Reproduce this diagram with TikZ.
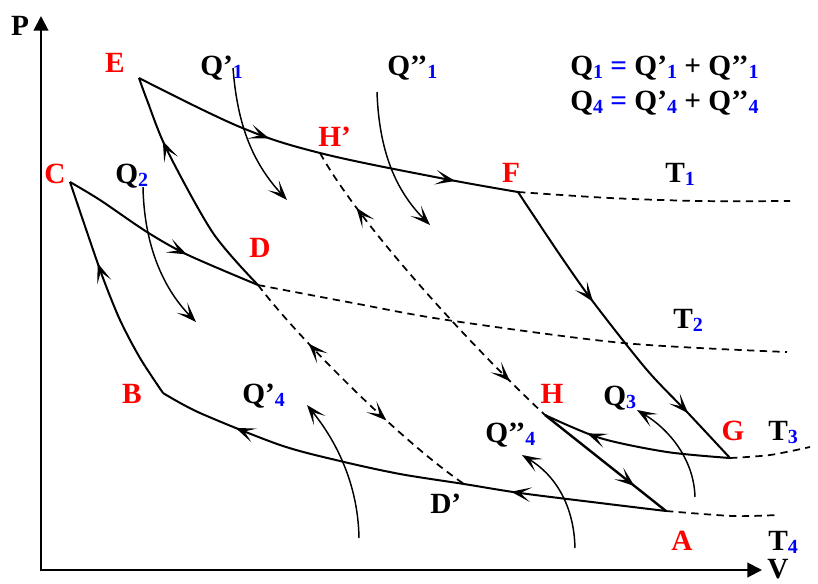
\documentclass[tikz,border=0pt]{standalone}
\usepackage{fontspec}
\setmainfont{Liberation Serif}
\usetikzlibrary{arrows.meta,decorations.markings}
\definecolor{lblred}{RGB}{255,0,0}
\definecolor{subblue}{RGB}{0,0,255}
\newcommand{\subd}[1]{\textcolor{subblue}{\raisebox{-2.5pt}{\fontsize{15}{16}\selectfont #1}}}
\begin{document}
\begin{tikzpicture}[x=0.75pt,y=-0.75pt,
  mytip/.tip={Stealth[length=15pt,width=11pt,inset=8pt]},
  axisline/.style={line width=1.5pt, {Triangle[length=11pt,width=11pt]}-{Triangle[length=11pt,width=11pt]}},
  curve/.style={line width=1.5pt},
  heat/.style={line width=1.1pt, -{mytip}},
  dashline/.style={line width=1.3pt, dash pattern=on 5.5pt off 4pt},
  arrowat/.style={postaction={decorate, decoration={markings, mark=at position #1 with {\arrow{mytip}}}}},
  revarrowat/.style={postaction={decorate, decoration={markings, mark=at position #1 with {\arrowreversed{mytip}}}}},
  lbl/.style={font=\bfseries\fontsize{22}{24}\selectfont, inner sep=0pt},
  ptlbl/.style={lbl, text=lblred},
]
\useasboundingbox (0,0) rectangle (818,583);
% points
\coordinate (O) at (41,570);
\coordinate (Ptop) at (41,16);
\coordinate (Vend) at (762,570);
\coordinate (E) at (139,78);
\coordinate (C) at (70,182);
\coordinate (B) at (163,393);
\coordinate (D) at (258,285);
\coordinate (Hp) at (320,153);
\coordinate (F) at (518,192);
\coordinate (G) at (730,458);
\coordinate (H) at (545,415);
\coordinate (A) at (666,511);
\coordinate (Dp) at (464,484);
% axes
\draw[axisline] (Ptop) -- (O) -- (Vend);
% isotherms
\draw[curve, arrowat=0.36, arrowat=0.84] plot[smooth, tension=0.6] coordinates {(E) (240,127) (Hp) (440,178) (F)};
\draw[dashline] plot[smooth] coordinates {(F) (610,198) (700,201) (790,201)};
\draw[curve, arrowat=0.64] plot[smooth] coordinates {(C) (100,200) (147,232) (188,255) (D)};
\draw[dashline] plot[smooth] coordinates {(D) (353,303) (447,320) (623,343) (787,352)};
\draw[curve, arrowat=0.76] plot[smooth] coordinates {(G) (667,452) (600,438) (H)};
\draw[dashline] plot[smooth] coordinates {(G) (770,455) (810,447)};
\draw[curve, arrowat=0.30, arrowat=0.845] plot[smooth] coordinates {(A) (600,503) (520,493) (Dp) (400,474) (340,461) (280,445) (200,413) (B)};
\draw[dashline] plot[smooth] coordinates {(A) (733,516) (777,515)};
% adiabats
\draw[curve, arrowat=0.72] plot[smooth] coordinates {(D) (213,233) (167,150) (147,100) (E)};
\draw[curve, arrowat=0.63] plot[smooth] coordinates {(B) (140,358) (120,320) (103,278) (88,235) (C)};
\draw[curve, arrowat=0.39, arrowat=0.82] plot[smooth] coordinates {(F) (560,255) (594,303) (647,370) (688,413) (G)};
\draw[curve, line width=1.8pt, arrowat=0.74] (H) -- (A);
% reversible dashed adiabats
\draw[dashline, revarrowat=0.19, arrowat=0.86] (Hp) .. controls (360,225) and (470,345) .. (H);
\draw[dashline, revarrowat=0.27, arrowat=0.65] (D) .. controls (300,340) and (400,440) .. (Dp);
% heat arrows
\coordinate (q1a) at (233,68);   \coordinate (q1b) at (287,200);
\coordinate (q1c) at (377,92);   \coordinate (q1d) at (430,225);
\coordinate (q2a) at (143,187);  \coordinate (q2b) at (196,322);
\coordinate (q4a) at (359,538);  \coordinate (q4b) at (307,405);
\coordinate (q4c) at (575,548);  \coordinate (q4d) at (522,455);
\coordinate (q3a) at (695,497);  \coordinate (q3b) at (637,410);
\draw[heat] (q1a) .. controls (237,120) and (250,160) .. (q1b);
\draw[heat] (q1c) .. controls (379,150) and (395,190) .. (q1d);
\draw[heat] (q2a) .. controls (144,240) and (160,285) .. (q2b);
\draw[heat] (q4a) .. controls (358,480) and (333,437) .. (q4b);
\draw[heat] (q4c) .. controls (574,505) and (555,475) .. (q4d);
\draw[heat] (q3a) .. controls (694,460) and (670,430) .. (q3b);
% labels
\node[lbl, anchor=base] (lP) at (20,35) {P};
\node[lbl, anchor=base west] (lV) at (767,578) {V};
\node[ptlbl, anchor=base] (lE) at (115,72) {E};
\node[ptlbl, anchor=base] (lC) at (55,183) {C};
\node[ptlbl, anchor=base] (lD) at (260,257) {D};
\node[ptlbl, anchor=base west] (lHp) at (318,146) {H’};
\node[ptlbl, anchor=base] (lF) at (511,182) {F};
\node[ptlbl, anchor=base] (lB) at (132,403) {B};
\node[ptlbl, anchor=base] (lH) at (552,403) {H};
\node[ptlbl, anchor=base] (lG) at (733,440) {G};
\node[ptlbl, anchor=base] (lA) at (682,550) {A};
\node[lbl, anchor=base west] (lDp) at (430,513) {D’};
\node[lbl, anchor=base west] (lQ2) at (115,183) {Q\subd{2}};
\node[lbl, anchor=base west] (lQ1p) at (200,75) {Q’\subd{1}};
\node[lbl, anchor=base west] (lQ1pp) at (387,75) {Q’’\subd{1}};
\node[lbl, anchor=base west] (lQ4p) at (242,403) {Q’\subd{4}};
\node[lbl, anchor=base west] (lQ3) at (603,405) {Q\subd{3}};
\node[lbl, anchor=base west] (lQ4pp) at (485,442) {Q’’\subd{4}};
\node[lbl, anchor=base west] (lT1) at (665,182) {T\subd{1}};
\node[lbl, anchor=base west] (lT2) at (673,328) {T\subd{2}};
\node[lbl, anchor=base west] (lT3) at (768,440) {T\subd{3}};
\node[lbl, anchor=base west] (lT4) at (768,550) {T\subd{4}};
\node[lbl, anchor=base west] (eq1) at (570,75) {Q\subd{1} \textcolor{subblue}{=} Q’\subd{1} + Q’’\subd{1}};
\node[lbl, anchor=base west] (eq2) at (570,110) {Q\subd{4} \textcolor{subblue}{=} Q’\subd{4} + Q’’\subd{4}};
\end{tikzpicture}
\end{document}
